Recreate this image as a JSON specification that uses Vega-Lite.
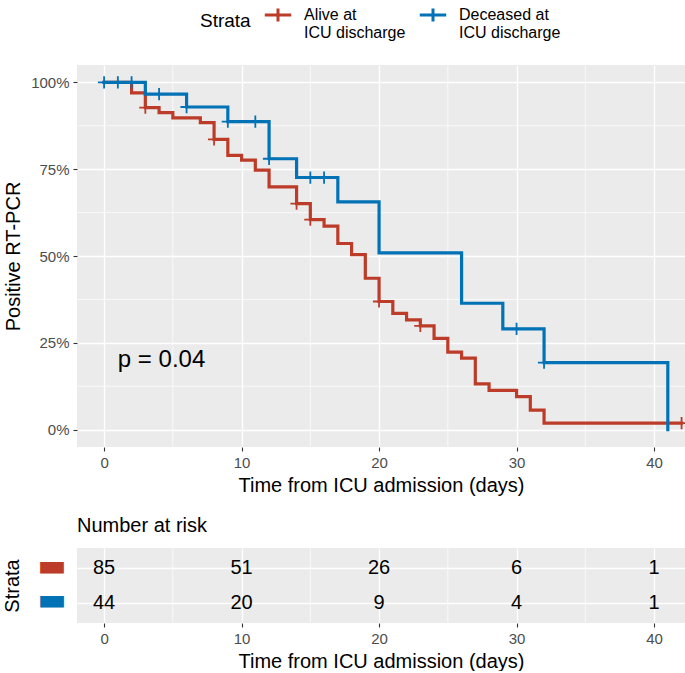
{
  "$schema": "https://vega.github.io/schema/vega-lite/v6.json",
  "padding": {"left": 2, "top": 0, "right": 0, "bottom": 0},
  "background": "white",
  "config": {
    "font": "Liberation Sans",
    "view": {"fill": "#EBEBEB", "stroke": null},
    "axis": {
      "domain": false,
      "grid": true,
      "gridColor": "white",
      "gridWidth": 1.3,
      "tickColor": "#333333",
      "tickSize": 4,
      "tickWidth": 1.1,
      "labelColor": "#4D4D4D",
      "labelFontSize": 15,
      "labelFont": "Liberation Sans",
      "titleFont": "Liberation Sans",
      "titleFontSize": 20,
      "titleFontWeight": "normal",
      "titleColor": "black",
      "labelPadding": 4
    },
    "title": {"font": "Liberation Sans", "fontWeight": "normal"}
  },
  "datasets": {
    "curve": [
      {"strata": "Alive at ICU discharge", "t": 0, "S": 1.0},
      {"strata": "Alive at ICU discharge", "t": 2, "S": 0.970},
      {"strata": "Alive at ICU discharge", "t": 3, "S": 0.927},
      {"strata": "Alive at ICU discharge", "t": 4, "S": 0.913},
      {"strata": "Alive at ICU discharge", "t": 5, "S": 0.898},
      {"strata": "Alive at ICU discharge", "t": 7, "S": 0.884},
      {"strata": "Alive at ICU discharge", "t": 8, "S": 0.836},
      {"strata": "Alive at ICU discharge", "t": 9, "S": 0.790},
      {"strata": "Alive at ICU discharge", "t": 10, "S": 0.776},
      {"strata": "Alive at ICU discharge", "t": 11, "S": 0.747},
      {"strata": "Alive at ICU discharge", "t": 12, "S": 0.699},
      {"strata": "Alive at ICU discharge", "t": 14, "S": 0.651},
      {"strata": "Alive at ICU discharge", "t": 15, "S": 0.605},
      {"strata": "Alive at ICU discharge", "t": 16, "S": 0.586},
      {"strata": "Alive at ICU discharge", "t": 17, "S": 0.536},
      {"strata": "Alive at ICU discharge", "t": 18, "S": 0.504},
      {"strata": "Alive at ICU discharge", "t": 19, "S": 0.436},
      {"strata": "Alive at ICU discharge", "t": 20, "S": 0.369},
      {"strata": "Alive at ICU discharge", "t": 21, "S": 0.335},
      {"strata": "Alive at ICU discharge", "t": 22, "S": 0.316},
      {"strata": "Alive at ICU discharge", "t": 23, "S": 0.299},
      {"strata": "Alive at ICU discharge", "t": 24, "S": 0.263},
      {"strata": "Alive at ICU discharge", "t": 25, "S": 0.223},
      {"strata": "Alive at ICU discharge", "t": 26, "S": 0.206},
      {"strata": "Alive at ICU discharge", "t": 27, "S": 0.132},
      {"strata": "Alive at ICU discharge", "t": 28, "S": 0.113},
      {"strata": "Alive at ICU discharge", "t": 30, "S": 0.095},
      {"strata": "Alive at ICU discharge", "t": 31, "S": 0.056},
      {"strata": "Alive at ICU discharge", "t": 32, "S": 0.019},
      {"strata": "Alive at ICU discharge", "t": 42, "S": 0.019},
      {"strata": "Deceased at ICU discharge", "t": 0, "S": 1.0},
      {"strata": "Deceased at ICU discharge", "t": 3, "S": 0.966},
      {"strata": "Deceased at ICU discharge", "t": 6, "S": 0.929},
      {"strata": "Deceased at ICU discharge", "t": 9, "S": 0.887},
      {"strata": "Deceased at ICU discharge", "t": 12, "S": 0.780},
      {"strata": "Deceased at ICU discharge", "t": 14, "S": 0.726},
      {"strata": "Deceased at ICU discharge", "t": 17, "S": 0.656},
      {"strata": "Deceased at ICU discharge", "t": 20, "S": 0.509},
      {"strata": "Deceased at ICU discharge", "t": 26, "S": 0.364},
      {"strata": "Deceased at ICU discharge", "t": 29, "S": 0.290},
      {"strata": "Deceased at ICU discharge", "t": 32, "S": 0.193},
      {"strata": "Deceased at ICU discharge", "t": 41, "S": 0.0}
    ],
    "censor": [
      {"strata": "Alive at ICU discharge", "t": 3, "S": 0.927},
      {"strata": "Alive at ICU discharge", "t": 8, "S": 0.836},
      {"strata": "Alive at ICU discharge", "t": 14, "S": 0.651},
      {"strata": "Alive at ICU discharge", "t": 15, "S": 0.605},
      {"strata": "Alive at ICU discharge", "t": 20, "S": 0.369},
      {"strata": "Alive at ICU discharge", "t": 23, "S": 0.299},
      {"strata": "Alive at ICU discharge", "t": 42, "S": 0.019},
      {"strata": "Deceased at ICU discharge", "t": 0, "S": 1.0},
      {"strata": "Deceased at ICU discharge", "t": 1, "S": 1.0},
      {"strata": "Deceased at ICU discharge", "t": 2, "S": 1.0},
      {"strata": "Deceased at ICU discharge", "t": 4, "S": 0.966},
      {"strata": "Deceased at ICU discharge", "t": 6, "S": 0.929},
      {"strata": "Deceased at ICU discharge", "t": 9, "S": 0.887},
      {"strata": "Deceased at ICU discharge", "t": 11, "S": 0.887},
      {"strata": "Deceased at ICU discharge", "t": 12, "S": 0.780},
      {"strata": "Deceased at ICU discharge", "t": 15, "S": 0.726},
      {"strata": "Deceased at ICU discharge", "t": 16, "S": 0.726},
      {"strata": "Deceased at ICU discharge", "t": 30, "S": 0.290},
      {"strata": "Deceased at ICU discharge", "t": 32, "S": 0.193}
    ],
    "risk": [
      {"strata": "Alive at ICU discharge", "t": 0, "n": 85},
      {"strata": "Alive at ICU discharge", "t": 10, "n": 51},
      {"strata": "Alive at ICU discharge", "t": 20, "n": 26},
      {"strata": "Alive at ICU discharge", "t": 30, "n": 6},
      {"strata": "Alive at ICU discharge", "t": 40, "n": 1},
      {"strata": "Deceased at ICU discharge", "t": 0, "n": 44},
      {"strata": "Deceased at ICU discharge", "t": 10, "n": 20},
      {"strata": "Deceased at ICU discharge", "t": 20, "n": 9},
      {"strata": "Deceased at ICU discharge", "t": 30, "n": 4},
      {"strata": "Deceased at ICU discharge", "t": 40, "n": 1}
    ],
    "minorX": [{"v": 5}, {"v": 15}, {"v": 25}, {"v": 35}],
    "minorY": [{"v": 0.125}, {"v": 0.375}, {"v": 0.625}, {"v": 0.875}],
    "pval": [{"t": 1, "S": 0.2, "label": "p = 0.04"}]
  },
  "vconcat": [
    {
      "width": 608,
      "height": 382,
      "layer": [
        {
          "data": {"name": "minorX"},
          "mark": {"type": "rule", "color": "white", "strokeWidth": 0.7},
          "encoding": {"x": {"field": "v", "type": "quantitative"}}
        },
        {
          "data": {"name": "minorY"},
          "mark": {"type": "rule", "color": "white", "strokeWidth": 0.7},
          "encoding": {"y": {"field": "v", "type": "quantitative"}}
        },
        {
          "data": {"name": "curve"},
          "mark": {"type": "line", "interpolate": "step-after", "strokeWidth": 3.2, "strokeCap": "square"},
          "encoding": {
            "x": {"field": "t", "type": "quantitative", "scale": {"domain": [-1.97, 42.25], "nice": false, "zero": false},
              "axis": {"values": [0, 10, 20, 30, 40], "title": "Time from ICU admission (days)", "titlePadding": 5}},
            "y": {"field": "S", "type": "quantitative", "scale": {"domain": [-0.05, 1.05], "nice": false},
              "axis": {"values": [0, 0.25, 0.5, 0.75, 1], "format": ".0%", "title": "Positive RT-PCR", "titlePadding": 7}},
            "color": {"field": "strata", "type": "nominal",
              "scale": {"domain": ["Alive at ICU discharge", "Deceased at ICU discharge"], "range": ["#BC3C29", "#0072B5"]},
              "legend": {
                "orient": "none", "legendX": 123, "legendY": -65, "direction": "horizontal", "padding": 0, "rowPadding": 0,
                "title": "Strata", "titleOrient": "left", "titleFontSize": 19, "titleFontWeight": "normal", "titleColor": "black", "titlePadding": 12, "titleBaseline": "middle",
                "labelFontSize": 16, "labelColor": "black",
                "labelExpr": "datum.label == 'Alive at ICU discharge' ? ['Alive at', 'ICU discharge'] : ['Deceased at', 'ICU discharge']",
                "symbolType": "M-1,0H1M0,-0.5V0.5", "symbolSize": 700, "symbolStrokeWidth": 3, "symbolFillColor": "transparent",
                "columnPadding": 7, "labelOffset": 11, "labelLimit": 200
              }
            }
          }
        },
        {
          "data": {"name": "censor"},
          "mark": {"type": "point", "shape": "M-1,0H1M0,-1V1", "filled": false, "size": 150, "strokeWidth": 1.8, "opacity": 1},
          "encoding": {
            "x": {"field": "t", "type": "quantitative"},
            "y": {"field": "S", "type": "quantitative"},
            "color": {"field": "strata", "type": "nominal"}
          }
        },
        {
          "data": {"name": "pval"},
          "mark": {"type": "text", "align": "left", "baseline": "middle", "fontSize": 24, "font": "Liberation Sans", "color": "black"},
          "encoding": {
            "x": {"field": "t", "type": "quantitative"},
            "y": {"field": "S", "type": "quantitative"},
            "text": {"field": "label"}
          }
        }
      ]
    },
    {
      "width": 608,
      "height": 75,
      "title": {"text": "Number at risk", "anchor": "start", "frame": "group", "fontSize": 20, "fontWeight": "normal", "color": "black", "offset": 12},
      "layer": [
        {
          "data": {"name": "minorX"},
          "mark": {"type": "rule", "color": "white", "strokeWidth": 0.7},
          "encoding": {"x": {"field": "v", "type": "quantitative"}}
        },
        {
          "data": {"name": "risk"},
          "mark": {"type": "text", "fontSize": 20, "font": "Liberation Sans", "color": "black", "baseline": "middle"},
          "encoding": {
            "x": {"field": "t", "type": "quantitative", "scale": {"domain": [-1.97, 42.25], "nice": false, "zero": false},
              "axis": {"values": [0, 10, 20, 30, 40], "title": "Time from ICU admission (days)", "titlePadding": 5}},
            "y": {"field": "strata", "type": "nominal",
              "scale": {"type": "point", "padding": 0.6, "domain": ["Alive at ICU discharge", "Deceased at ICU discharge"]},
              "axis": {"title": "Strata", "ticks": false, "labelExpr": "'▬'", "labelFont": "DejaVu Sans", "labelFontSize": 31, "labelPadding": 11, "labelOffset": -2,
                "labelColor": {"expr": "datum.value == 'Alive at ICU discharge' ? '#BC3C29' : '#0072B5'"}, "titlePadding": 14}},
            "text": {"field": "n", "type": "quantitative"}
          }
        }
      ]
    }
  ],
  "spacing": 20
}
